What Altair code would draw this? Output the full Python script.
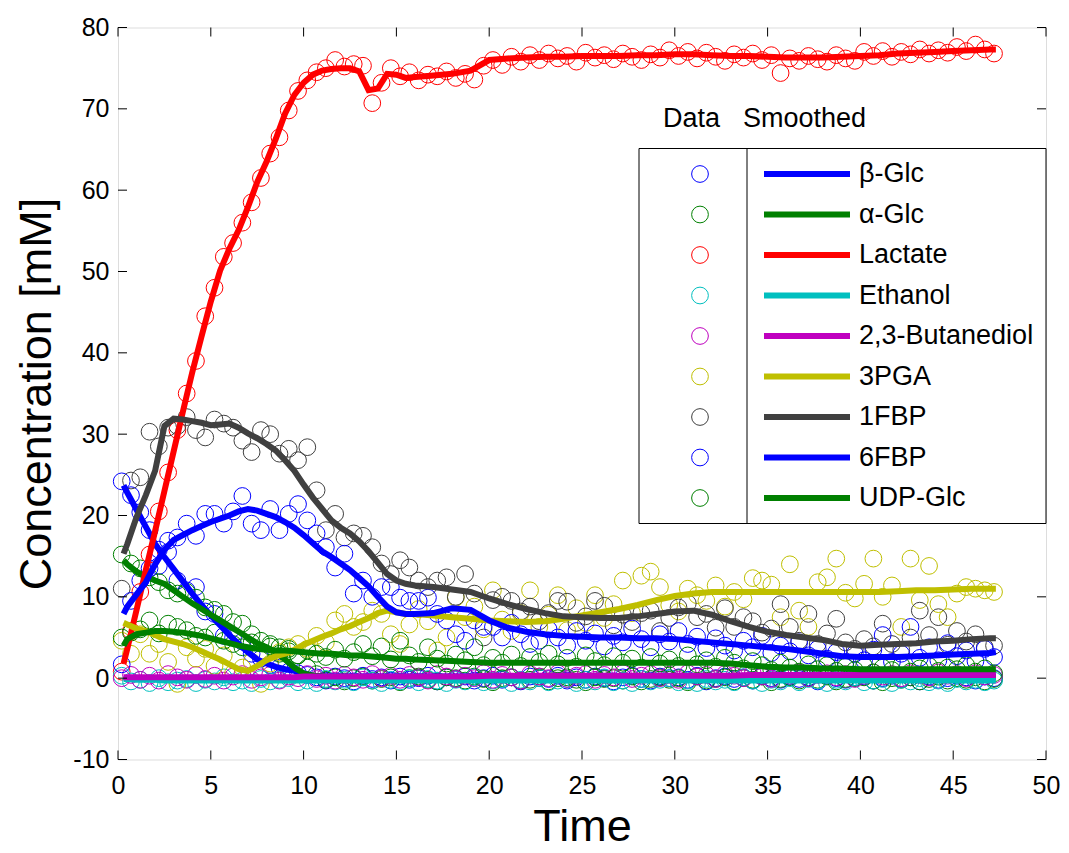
import altair as alt
import pandas as pd

FONT = "Liberation Sans"
NAMES = ["β-Glc", "α-Glc", "Lactate", "Ethanol", "2,3-Butanediol", "3PGA", "1FBP", "6FBP", "UDP-Glc"]
COLORS = ["#0000FF", "#008000", "#FF0000", "#00BFBF", "#BF00BF", "#BFBF00", "#404040", "#0000FF", "#008000"]

X_TICKS = [0, 5, 10, 15, 20, 25, 30, 35, 40, 45, 50]
Y_TICKS = [-10, 0, 10, 20, 30, 40, 50, 60, 70, 80]

# sample times of the measured data
T_DATA = [0.2, 0.7, 1.2, 1.7, 2.2, 2.7, 3.2, 3.7, 4.2, 4.7,
          5.2, 5.7, 6.2, 6.7, 7.2, 7.7, 8.2, 8.7, 9.2, 9.7,
          10.2, 10.7, 11.2, 11.7, 12.2, 12.7, 13.2, 13.7, 14.2, 14.7,
          15.2, 15.7, 16.2, 16.7, 17.2, 17.7, 18.2, 18.7, 19.2, 19.7,
          20.2, 20.7, 21.2, 21.7, 22.2, 22.7, 23.2, 23.7, 24.2, 24.7,
          25.2, 25.7, 26.2, 26.7, 27.2, 27.7, 28.2, 28.7, 29.2, 29.7,
          30.2, 30.7, 31.2, 31.7, 32.2, 32.7, 33.2, 33.7, 34.2, 34.7,
          35.2, 35.7, 36.2, 36.7, 37.2, 37.7, 38.2, 38.7, 39.2, 39.7,
          40.2, 40.7, 41.2, 41.7, 42.2, 42.7, 43.2, 43.7, 44.2, 44.7,
          45.2, 45.7, 46.2, 46.7, 47.2]

# times of the smoothed curves
T_SMOOTH = [0.3, 0.5, 1.0, 1.5, 2.0, 2.5, 3.0, 3.5, 4.0, 4.5,
            5.0, 5.5, 6.0, 6.5, 7.0, 7.5, 8.0, 8.5, 9.0, 9.5,
            10.0, 10.5, 11.0, 11.5, 12.0, 12.5, 13.0, 13.5, 14.0, 14.5,
            15.0, 15.5, 16.0,
            17, 18, 19, 20, 21, 22, 23, 24, 25, 26,
            27, 28, 29, 30, 31, 32, 33, 34, 35, 36,
            37, 38, 39, 40, 41, 42, 43, 44, 45, 46,
            47, 47.3]

# ---- measured data ----
BGLC_D = [24.2, 22.5, 20.4, 18.2, 13.8, 15.5, 12.0, 10.8, 11.2, 8.2,
          7.9, 5.2, 5.0, 4.5, 3.0, 2.4, 1.6, 1.3, 0.8, 0.6,
          0.4, 0.1, -0.3, 0.2, 0.0, -0.4, 0.3, -0.1, 0.1, -0.3,
          0.2, -0.2, 0.0, 0.3, -0.4, 0.1, -0.1, 0.2, -0.3, 0.0,
          0.3, -0.2, 0.1, -0.4, 0.2, 0.0, -0.1, 0.3, -0.3, 0.1,
          -0.2, 0.2, 0.0, -0.4, 0.1, 0.3, -0.1, -0.3, 0.2, 0.0,
          0.1, -0.2, 0.3, -0.4, 0.0, 0.2, -0.1, 0.1, -0.3, 0.3,
          0.0, -0.2, 0.2, -0.1, 0.1, -0.4, 0.3, 0.0, -0.2, 0.1,
          0.2, -0.3, 0.0, 0.3, -0.1, 0.1, -0.4, 0.2, -0.2, 0.0,
          0.3, 0.1, -0.3, 0.2, 0.0]
AGLC_D = [15.2, 14.1, 13.5, 12.4, 11.8, 10.8, 10.4, 10.6, 9.9, 8.7,
          8.4, 7.9, 6.9, 6.7, 5.4, 4.6, 4.2, 3.8, 3.3, 2.8,
          1.3, 0.5, -0.2, 0.1, -0.4, 0.0, 0.2, -0.3, -0.1, 0.1,
          -0.5, 0.0, 0.2, -0.2, -0.4, 0.1, 0.0, -0.3, 0.2, -0.1,
          -0.5, 0.0, 0.1, -0.3, -0.2, 0.2, -0.4, 0.0, 0.1, -0.2,
          -0.5, 0.1, -0.1, 0.0, -0.3, 0.2, -0.4, -0.1, 0.1, -0.2,
          0.0, -0.5, 0.2, -0.3, -0.1, 0.1, -0.4, 0.0, -0.2, 0.2,
          -0.5, -0.1, 0.1, -0.3, 0.0, -0.2, 0.2, -0.4, -0.1, 0.0,
          0.1, -0.3, -0.5, 0.0, -0.2, 0.1, -0.4, -0.1, 0.2, -0.3,
          0.0, -0.2, 0.1, -0.4, -0.1]
LAC_D = [0.8, 5.8, 10.6, 15.2, 20.5, 25.3, 30.5, 35.0, 39.0, 44.5,
         48.0, 51.8, 53.5, 56.0, 58.5, 61.5, 64.5, 66.5, 69.8, 72.2,
         73.5, 74.5, 75.0, 76.0, 75.2, 75.5, 75.3, 70.7, 73.2, 75.0,
         74.0, 74.5, 73.5, 74.2, 74.0, 74.6, 73.8, 74.3, 73.6, 75.3,
         76.0, 75.4, 76.4, 75.8, 76.6, 76.0, 76.8, 76.2, 76.5, 75.8,
         76.9, 76.3, 76.6, 76.1, 76.8, 76.4, 76.0, 76.7, 76.3, 77.2,
         76.5, 77.0, 76.2, 76.9, 76.4, 75.9, 76.7, 76.3, 76.8, 76.0,
         76.6, 74.4, 76.2, 75.9, 76.5, 76.1, 75.8, 76.6, 76.2, 75.9,
         77.0, 76.5, 77.1, 76.4, 77.0, 76.7, 77.3, 76.8, 77.2, 76.9,
         77.6, 77.1, 77.9, 77.3, 76.8]
ETH_D = [0.3, -0.4, -0.2, -0.6, 0.0, -0.5, -0.3, -0.1, -0.6, -0.2,
         -0.4, 0.1, -0.5, -0.3, -0.6, -0.1, -0.4, -0.2, 0.0, -0.5,
         -0.3, -0.6, -0.1, -0.4, -0.2, -0.5, 0.1, -0.3, -0.6, -0.2,
         -0.4, 0.0, -0.5, -0.1, -0.3, -0.6, -0.2, -0.4, 0.1, -0.5,
         -0.3, -0.1, -0.6, -0.2, -0.4, 0.0, -0.5, -0.3, -0.1, -0.6,
         -0.2, -0.4, 0.1, -0.5, -0.3, -0.6, -0.1, -0.4, -0.2, 0.0,
         -0.5, -0.3, -0.6, -0.1, -0.4, -0.2, -0.5, 0.1, -0.3, -0.6,
         -0.2, -0.4, 0.0, -0.5, -0.1, -0.3, -0.6, -0.2, -0.4, 0.1,
         -0.5, -0.3, -0.1, -0.6, -0.2, -0.4, 0.0, -0.5, -0.3, -0.6,
         -0.1, -0.4, -0.2, -0.5, -0.3]
BUT_D = [0.0, 0.4, -0.2, 0.3, -0.3, 0.5, 0.1, -0.2, 0.4, -0.1,
         0.3, -0.3, 0.2, 0.5, -0.2, 0.1, 0.4, -0.3, 0.2, 0.0,
         0.5, -0.1, 0.3, -0.3, 0.4, 0.1, -0.2, 0.5, 0.0, 0.3,
         -0.2, 0.4, 0.1, -0.3, 0.5, 0.2, -0.1, 0.3, 0.0, 0.6,
         -0.2, 0.4, 0.1, -0.3, 0.5, 0.2, 0.0, 0.6, -0.1, 0.3,
         0.5, -0.2, 0.4, 0.1, 0.6, -0.1, 0.3, 0.5, 0.0, 0.4,
         -0.2, 0.6, 0.2, 0.4, -0.1, 0.5, 0.3, 0.0, 0.6, 0.2,
         -0.1, 0.5, 0.3, 0.7, 0.0, 0.4, 0.6, 0.1, 0.5, -0.1,
         0.3, 0.7, 0.2, 0.5, 0.0, 0.6, 0.4, 0.1, 0.7, 0.3,
         0.5, 0.0, 0.6, 0.2, 0.4]
PGA_D = [4.6, 3.0, 5.4, 3.0, 4.2, 2.0, -0.7, 3.8, 2.4, 3.6,
         1.5, 2.8, 0.6, 1.3, 2.0, -0.7, 1.8, 3.2, 3.8, 4.2,
         3.6, 5.2, 4.4, 7.1, 7.9, 6.3, 6.9, 8.3, 7.9, 5.4,
         4.2, 6.6, 8.5, 7.0, 3.4, 5.0, 9.9, 7.5, 8.8, 6.0,
         10.8, 7.2, 5.8, 8.0, 10.8, 6.3, 7.8, 10.2, 5.9, 8.6,
         6.8, 10.2, 7.4, 9.1, 12.0, 8.0, 12.6, 13.1, 11.2, 9.0,
         8.2, 11.0, 10.2, 9.5, 11.4, 8.8, 10.6, 9.7, 12.3, 12.0,
         11.5, 7.5, 14.0, 8.3, 6.3, 11.8, 12.4, 14.7, 10.5, 9.8,
         11.6, 14.7, 10.0, 11.4, 6.3, 14.7, 9.6, 13.8, 9.1, 7.5,
         10.4, 11.2, 11.0, 10.8, 10.6]
FBP1_D = [11.0, 24.3, 24.7, 30.3, 28.5, 30.8, 31.0, 32.1, 30.5, 29.6,
          31.8, 31.3, 30.8, 29.2, 27.8, 30.5, 30.0, 27.6, 28.2, 26.8,
          28.4, 23.1, 18.2, 20.2, 17.3, 17.8, 17.5, 16.1, 14.1, 12.8,
          14.5, 13.6, 12.0, 11.2, 12.0, 12.4, 10.0, 12.8, 10.4, 5.0,
          9.6, 10.0, 9.5, 8.2, 8.8, 7.0, 8.0, 9.5, 9.4, 6.8,
          7.6, 9.5, 8.9, 6.5, 7.8, 6.9, 8.0, 8.3, 5.8, 7.4,
          8.7, 9.2, 7.5, 7.9, 6.2, 8.6, 6.3, 7.5, 7.0, 5.6,
          6.1, 9.1, 6.3, 4.6, 7.9, 4.2, 5.5, 7.3, 4.4, 3.6,
          4.8, 3.9, 6.7, 4.2, 3.5, 5.0, 8.3, 5.3, 7.5, 4.1,
          5.8, 4.5, 5.4, 3.8, 4.0]
FBP6_D = [1.7, 9.5, 12.0, 13.5, 15.8, 16.9, 17.3, 19.0, 17.5, 20.2,
          20.2, 19.0, 20.5, 22.4, 19.0, 18.2, 20.8, 18.2, 20.2, 21.4,
          19.4, 17.8, 16.1, 13.6, 15.3, 10.4, 12.0, 10.0, 11.2, 11.2,
          9.9, 9.5, 9.5, 9.9, 7.9, 7.1, 5.4, 4.6, 7.1, 6.3,
          6.3, 5.0, 6.8, 5.4, 4.2, 4.6, 6.0, 5.0, 4.0, 5.8,
          4.6, 5.5, 3.9, 5.2, 4.4, 6.1, 4.8, 3.8, 5.4, 4.5,
          5.8, 4.2, 5.1, 3.7, 4.9, 4.0, 3.4, 4.6, 3.8, 5.2,
          3.1, 4.0, 3.3, 4.4, 2.8, 3.6, 2.4, 3.2, 2.0, 3.0,
          2.2, 3.5, 5.3, 2.0, 3.0, 6.3, 2.5, 3.8, 2.2, 4.3,
          2.7, 3.4, 2.1, 3.6, 2.6]
UDP_D = [5.0, 5.6, 6.0, 7.1, 5.5, 6.7, 6.3, 5.9, 5.2, 5.0,
         5.6, 4.6, 4.2, 3.8, 4.4, 3.3, 3.9, 3.0, 3.6, 2.8,
         3.4, 3.0, 2.6, 3.5, 2.4, 3.2, 4.2, 2.7, 3.9, 2.3,
         4.6, 2.8, 2.0, 3.8, 2.4, 1.8, 2.9, 2.2, 3.8, 1.6,
         2.5, 1.9, 2.9, 1.5, 2.6, 2.0, 3.0, 1.7, 2.5, 1.4,
         2.8, 2.1, 1.6, 2.7, 1.9, 2.4, 1.3, 2.6, 1.8, 2.3,
         1.5, 2.8, 1.7, 2.2, 1.4, 2.5, 1.9, 1.2, 2.1, 1.6,
         1.0, 1.9, 1.3, 0.8, 1.7, 1.1, 1.6, 0.9, 1.4, 1.0,
         1.5, 0.7, 1.3, 1.0, 1.6, 0.8, 1.2, 1.5, 0.9, 1.3,
         1.1, 1.6, 0.8, 1.2, 0.6]

# ---- smoothed curves ----
BGLC_S = [23.7, 22.8, 20.7, 18.6, 16.5, 14.9, 13.4, 11.9, 10.4, 9.0,
          7.7, 6.5, 5.3, 4.2, 3.2, 2.3, 1.8, 1.4, 1.1, 0.9,
          0.6, 0.3, 0.2, 0.2, 0.2, 0.2, 0.2, 0.2, 0.2, 0.2,
          0.2, 0.2, 0.2,
          0.2, 0.2, 0.2, 0.2, 0.2, 0.2, 0.2, 0.2, 0.2, 0.2,
          0.2, 0.2, 0.2, 0.2, 0.2, 0.2, 0.2, 0.2, 0.2, 0.2,
          0.2, 0.2, 0.2, 0.2, 0.2, 0.2, 0.2, 0.2, 0.2, 0.2,
          0.2, 0.2]
AGLC_S = [14.5, 14.0, 13.1, 12.5, 12.0, 11.6, 10.8, 10.0, 9.2, 8.5,
          7.8, 7.1, 6.4, 5.7, 5.0, 4.3, 3.8, 3.2, 2.3, 1.3,
          0.6, 0.3, 0.2, 0.1, 0.1, 0.1, 0.1, 0.1, 0.1, 0.1,
          0.1, 0.1, 0.1,
          0.1, 0.1, 0.1, 0.1, 0.1, 0.1, 0.1, 0.1, 0.1, 0.1,
          0.1, 0.1, 0.1, 0.1, 0.1, 0.1, 0.1, 0.1, 0.1, 0.1,
          0.1, 0.1, 0.1, 0.1, 0.1, 0.1, 0.1, 0.1, 0.1, 0.1,
          0.1, 0.1]
LAC_S = [1.8, 3.6, 8.4, 13.3, 18.1, 23.0, 27.9, 32.8, 37.6, 42.0,
         46.3, 50.1, 52.8, 55.1, 57.9, 61.0, 63.5, 66.3, 69.4, 71.7,
         73.2, 74.2, 74.7, 74.9, 75.0, 75.0, 74.6, 72.3, 72.5, 74.3,
         74.2, 73.8, 73.9,
         74.1, 74.3, 74.7, 76.0, 76.2, 76.3, 76.4, 76.4, 76.5, 76.5,
         76.5, 76.6, 76.6, 76.7, 76.7, 76.6, 76.5, 76.5, 76.4, 76.3,
         76.3, 76.3, 76.4, 76.5, 76.6, 76.8, 76.9, 77.0, 77.1, 77.2,
         77.3, 77.3]
ETH_S = [-0.1, -0.1, -0.2, -0.2, -0.2, -0.3, -0.3, -0.3, -0.3, -0.3,
         -0.3, -0.3, -0.3, -0.3, -0.3, -0.3, -0.3, -0.3, -0.3, -0.3,
         -0.3, -0.3, -0.3, -0.3, -0.3, -0.3, -0.3, -0.3, -0.3, -0.3,
         -0.3, -0.3, -0.3,
         -0.3, -0.3, -0.3, -0.3, -0.3, -0.3, -0.3, -0.3, -0.3, -0.3,
         -0.3, -0.3, -0.3, -0.3, -0.3, -0.3, -0.3, -0.3, -0.3, -0.3,
         -0.3, -0.3, -0.3, -0.3, -0.3, -0.3, -0.3, -0.3, -0.3, -0.3,
         -0.3, -0.3]
BUT_S = [0.1, 0.1, 0.1, 0.1, 0.1, 0.1, 0.1, 0.1, 0.1, 0.1,
         0.1, 0.1, 0.1, 0.1, 0.1, 0.1, 0.1, 0.1, 0.1, 0.1,
         0.2, 0.2, 0.2, 0.2, 0.2, 0.2, 0.2, 0.2, 0.2, 0.2,
         0.2, 0.2, 0.2,
         0.2, 0.2, 0.2, 0.3, 0.3, 0.3, 0.3, 0.3, 0.3, 0.3,
         0.3, 0.3, 0.3, 0.3, 0.3, 0.3, 0.3, 0.4, 0.4, 0.4,
         0.4, 0.4, 0.4, 0.4, 0.4, 0.4, 0.4, 0.4, 0.4, 0.4,
         0.4, 0.4]
PGA_S = [6.8, 6.6, 6.1, 5.8, 5.3, 4.8, 4.5, 4.2, 3.8, 3.3,
         2.8, 2.3, 1.7, 1.1, 0.9, 1.5, 2.2, 2.7, 3.0, 3.5,
         4.1, 4.6, 5.1, 5.5, 6.0, 6.4, 6.9, 7.4, 8.0, 8.3,
         8.1, 7.9, 7.9,
         7.7, 7.5, 7.3, 7.1, 7.0, 6.9, 7.0, 7.3, 7.7, 8.1,
         8.5, 9.0, 9.6, 10.1, 10.4, 10.6, 10.6, 10.6, 10.6, 10.6,
         10.6, 10.6, 10.6, 10.6, 10.6, 10.7, 10.8, 10.8, 10.9, 11.0,
         11.0, 11.0]
FBP1_S = [15.3, 16.5, 19.8, 22.5, 25.5, 31.0, 31.9, 31.8, 31.6, 31.4,
          31.1, 31.2, 31.3, 30.8, 30.1, 29.5, 28.8, 28.0, 26.8, 25.5,
          23.8, 22.2, 20.8, 19.4, 18.5, 17.8, 16.8, 15.6, 14.2, 12.8,
          12.0, 11.6, 11.4,
          11.2, 10.9, 10.6, 9.8, 9.1, 8.5, 8.0, 7.6, 7.5, 7.4,
          7.4, 7.6, 7.9, 8.2, 8.3, 7.8, 7.0, 6.3, 5.7, 5.3,
          5.0, 4.7, 4.2, 4.0, 4.1, 4.2, 4.3, 4.5, 4.6, 4.8,
          4.9, 4.9]
FBP6_S = [7.9, 8.8, 10.3, 11.8, 14.0, 15.8, 17.0, 17.6, 18.2, 18.7,
          19.2, 19.6, 20.0, 20.5, 20.8, 20.6, 20.2, 19.8, 19.2, 18.5,
          17.6, 16.6, 15.6, 14.9, 14.1, 13.3, 12.3, 11.3, 10.0, 8.8,
          8.1, 7.9, 7.9,
          8.0, 8.6, 8.4, 7.1, 6.2, 5.7, 5.4, 5.2, 5.1, 5.0,
          5.0, 4.9, 4.9, 4.8, 4.6, 4.4, 4.2, 4.0, 3.8, 3.6,
          3.3, 3.0, 2.7, 2.6, 2.6, 2.6, 2.7, 2.8, 2.9, 3.0,
          3.1, 3.2]
UDP_S = [4.0, 4.8, 5.4, 5.6, 5.8, 5.8, 5.7, 5.6, 5.4, 5.2,
         4.9, 4.6, 4.3, 4.0, 3.8, 3.6, 3.5, 3.4, 3.4, 3.3,
         3.2, 3.1, 3.0, 3.0, 2.9, 2.8, 2.8, 2.7, 2.6, 2.5,
         2.4, 2.4, 2.3,
         2.2, 2.1, 2.0, 1.9, 1.9, 1.9, 1.9, 1.9, 1.9, 1.9,
         1.9, 1.9, 1.9, 1.9, 1.9, 1.9, 1.8, 1.6, 1.4, 1.3,
         1.3, 1.2, 1.2, 1.1, 1.1, 1.1, 1.1, 1.1, 1.1, 1.1,
         1.1, 1.1]

DATA = [BGLC_D, AGLC_D, LAC_D, ETH_D, BUT_D, PGA_D, FBP1_D, FBP6_D, UDP_D]
SMOOTH = [BGLC_S, AGLC_S, LAC_S, ETH_S, BUT_S, PGA_S, FBP1_S, FBP6_S, UDP_S]
for arr in DATA:
    assert len(arr) == len(T_DATA), len(arr)
for arr in SMOOTH:
    assert len(arr) == len(T_SMOOTH), len(arr)

W, H = 928, 732
PAD_L = 110

pts = pd.DataFrame([
    {"t": t, "v": v, "series": n}
    for n, arr in zip(NAMES, DATA) for t, v in zip(T_DATA, arr)
])

xs = alt.Scale(domain=[0, 50], nice=False, zero=False)
ys = alt.Scale(domain=[-10, 80], nice=False, zero=False)
cs = alt.Scale(domain=NAMES, range=COLORS)

x_axis = alt.Axis(values=X_TICKS, title="Time", grid=False, ticks=False, domain=False,
                  labelFont=FONT, labelFontSize=25, labelColor="black", labelPadding=14,
                  labelFlush=False, labelOverlap=False, labelExpr="'' + datum.value",
                  titleFont=FONT, titleFontSize=45, titleFontWeight="normal", titleColor="black",
                  titleX=W / 2, titleY=81, titleBaseline="alphabetic", titleAlign="center")
y_axis = alt.Axis(values=Y_TICKS, title="Concentration [mM]", grid=False, ticks=False, domain=False,
                  labelFont=FONT, labelFontSize=25, labelColor="black", labelPadding=9,
                  labelFlush=False, labelOverlap=False, labelExpr="'' + datum.value",
                  titleFont=FONT, titleFontSize=45, titleFontWeight="normal", titleColor="black",
                  titleAngle=270, titleX=-68, titleY=366, titleBaseline="alphabetic", titleAlign="center")

layers = []
layers.append(
    alt.Chart(pts).mark_point(shape="circle", filled=False, size=280, strokeWidth=1, opacity=1).encode(
        x=alt.X("t:Q", scale=xs, axis=x_axis),
        y=alt.Y("v:Q", scale=ys, axis=y_axis),
        color=alt.Color("series:N", scale=cs, legend=None),
    )
)
for n, col, arr in zip(NAMES, COLORS, SMOOTH):
    df = pd.DataFrame({"t": T_SMOOTH, "v": arr})
    layers.append(
        alt.Chart(df).mark_line(color=col, strokeWidth=6).encode(
            x=alt.X("t:Q", scale=xs, axis=x_axis),
            y=alt.Y("v:Q", scale=ys, axis=y_axis),
        )
    )

# inward ticks on all four sides
xt = pd.DataFrame({"t": X_TICKS})
yt = pd.DataFrame({"v": Y_TICKS})
layers.append(alt.Chart(xt).mark_rule(color="black", strokeWidth=1).encode(
    x=alt.X("t:Q", scale=xs, axis=x_axis), y=alt.value(H), y2=alt.value(H - 9)))
layers.append(alt.Chart(xt).mark_rule(color="black", strokeWidth=1).encode(
    x=alt.X("t:Q", scale=xs, axis=x_axis), y=alt.value(0), y2=alt.value(9)))
layers.append(alt.Chart(yt).mark_rule(color="black", strokeWidth=1).encode(
    y=alt.Y("v:Q", scale=ys, axis=y_axis), x=alt.value(0), x2=alt.value(9)))
layers.append(alt.Chart(yt).mark_rule(color="black", strokeWidth=1).encode(
    y=alt.Y("v:Q", scale=ys, axis=y_axis), x=alt.value(W - 9), x2=alt.value(W)))

# legend (positions in pixels relative to the plot's top-left corner)
one = pd.DataFrame({"a": [0]})
BOX_L, BOX_T, BOX_B, DIV_X = 521, 121, 496, 629
layers.append(alt.Chart(one).mark_rect(fill="white", stroke="black", strokeWidth=1).encode(
    x=alt.value(BOX_L), x2=alt.value(W), y=alt.value(BOX_T), y2=alt.value(BOX_B)))
layers.append(alt.Chart(one).mark_rule(color="black", strokeWidth=1).encode(
    x=alt.value(DIV_X), y=alt.value(BOX_T), y2=alt.value(BOX_B)))

leg = pd.DataFrame({"name": NAMES, "ly": [146.5 + 40.5 * i for i in range(len(NAMES))]})
layers.append(alt.Chart(leg).mark_point(shape="circle", filled=False, size=280, strokeWidth=1, opacity=1).encode(
    x=alt.value(582), y=alt.Y("ly:Q", scale=None),
    color=alt.Color("name:N", scale=cs, legend=None)))
layers.append(alt.Chart(leg).mark_rule(strokeWidth=6).encode(
    x=alt.value(646), x2=alt.value(732), y=alt.Y("ly:Q", scale=None),
    color=alt.Color("name:N", scale=cs, legend=None)))
layers.append(alt.Chart(leg).mark_text(align="left", baseline="middle", font=FONT, fontSize=27, color="black").encode(
    x=alt.value(741), y=alt.Y("ly:Q", scale=None), text="name:N"))

hdr = pd.DataFrame({"label": ["Data", "Smoothed"], "lx": [545, 625]})
layers.append(alt.Chart(hdr).mark_text(align="left", baseline="middle", font=FONT, fontSize=27, color="black").encode(
    x=alt.X("lx:Q", scale=None), y=alt.value(91), text="label:N"))

chart = alt.layer(*layers).properties(
    width=W, height=H,
    padding={"left": PAD_L, "top": 19.5, "right": 1053 - PAD_L - W, "bottom": 86},
    autosize=alt.AutoSizeParams(type="none"),
).configure_view(stroke="black", strokeWidth=1).configure(font=FONT)

chart.save("out.html", embed_options={"renderer": "svg", "actions": False})
